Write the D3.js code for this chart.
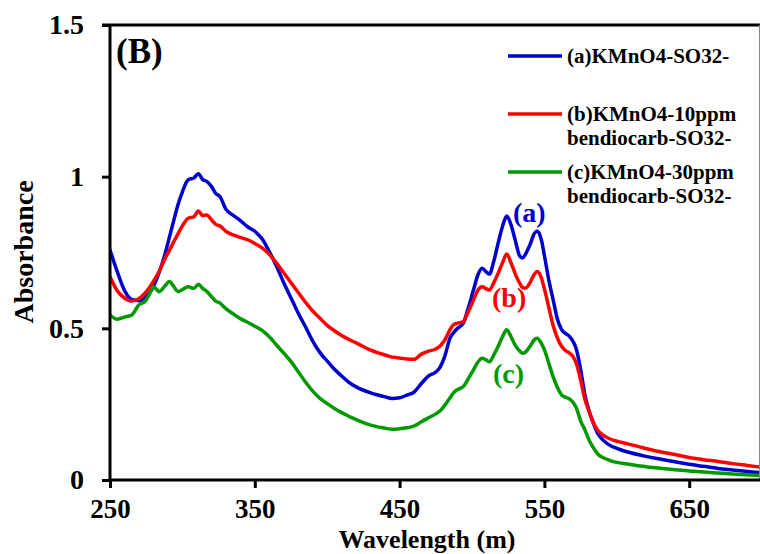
<!DOCTYPE html>
<html><head><meta charset="utf-8">
<script src="https://cdn.jsdelivr.net/npm/d3@7"></script>
<style>
html,body{margin:0;padding:0;background:#fff;}
svg{display:block;font-family:"Liberation Serif","Times New Roman",serif;font-weight:bold;}
</style></head>
<body><svg id="chart" width="760" height="554"></svg>
<script>
const wavelength = [250,255,260,265,270,274,277,280,284,288,291,294,297,300,304,308,311,314,317,320,323,326,330,335,340,345,350,355,360,365,370,375,380,385,390,395,400,405,410,415,420,430,440,445,450,455,460,465,470,475,478,481,485,487,490,494,497,501,504,507,510,512,515,518,521,524,527,530,533,535,537,540,543,545,548,550,553,556,559,562,565,567,570,572,575,578,581,584,587,590,595,600,607,620,630,640,650,660,670,680,690,700];

const seriesA = [0.758,0.687,0.625,0.595,0.592,0.600,0.615,0.638,0.685,0.745,0.800,0.855,0.908,0.950,0.990,0.996,1.010,0.990,0.984,0.968,0.945,0.934,0.893,0.873,0.855,0.835,0.820,0.795,0.753,0.705,0.650,0.600,0.550,0.505,0.458,0.420,0.392,0.365,0.343,0.322,0.307,0.287,0.274,0.269,0.271,0.280,0.290,0.318,0.343,0.356,0.372,0.405,0.470,0.484,0.500,0.517,0.560,0.626,0.675,0.698,0.685,0.679,0.720,0.780,0.835,0.870,0.840,0.788,0.738,0.732,0.745,0.775,0.812,0.821,0.790,0.740,0.660,0.595,0.530,0.495,0.482,0.475,0.455,0.432,0.365,0.280,0.225,0.185,0.152,0.134,0.115,0.104,0.093,0.078,0.069,0.060,0.052,0.045,0.038,0.033,0.028,0.024];

const seriesB = [0.670,0.624,0.600,0.590,0.598,0.615,0.633,0.655,0.688,0.730,0.757,0.785,0.812,0.838,0.863,0.868,0.887,0.872,0.874,0.858,0.843,0.837,0.820,0.808,0.800,0.792,0.780,0.765,0.744,0.715,0.683,0.650,0.618,0.586,0.557,0.533,0.510,0.492,0.476,0.463,0.452,0.428,0.412,0.405,0.402,0.399,0.398,0.415,0.425,0.432,0.442,0.460,0.497,0.511,0.517,0.522,0.550,0.593,0.625,0.637,0.630,0.626,0.650,0.681,0.715,0.745,0.715,0.678,0.648,0.634,0.633,0.650,0.678,0.687,0.665,0.630,0.570,0.510,0.468,0.440,0.425,0.420,0.405,0.385,0.330,0.265,0.225,0.187,0.163,0.150,0.136,0.128,0.120,0.104,0.093,0.084,0.074,0.067,0.061,0.054,0.048,0.042];

const seriesC = [0.544,0.530,0.537,0.544,0.578,0.588,0.610,0.637,0.621,0.640,0.654,0.638,0.621,0.628,0.637,0.632,0.645,0.632,0.621,0.605,0.590,0.583,0.565,0.548,0.532,0.520,0.507,0.493,0.472,0.445,0.418,0.390,0.357,0.323,0.293,0.269,0.252,0.236,0.222,0.210,0.199,0.181,0.171,0.167,0.169,0.172,0.178,0.192,0.205,0.218,0.228,0.245,0.272,0.286,0.298,0.308,0.330,0.363,0.388,0.401,0.395,0.390,0.412,0.440,0.472,0.495,0.472,0.443,0.425,0.418,0.422,0.440,0.462,0.467,0.450,0.430,0.385,0.341,0.305,0.280,0.272,0.268,0.255,0.238,0.195,0.165,0.130,0.105,0.085,0.075,0.065,0.058,0.053,0.044,0.039,0.034,0.030,0.026,0.023,0.020,0.017,0.014];

const seriesNames = ["(a)KMnO4-SO32-", "(b)KMnO4-10ppm|bendiocarb-SO32-", "(c)KMnO4-30ppm|bendiocarb-SO32-"];
const seriesTags = ["(a)", "(b)", "(c)"];
const seriesColors = ["#0000cc", "#ff0000", "#009900"];
const xTicks = [250, 350, 450, 550, 650];
const yTicks = [0, 0.5, 1, 1.5];
const yTickLabels = ["0", "0.5", "1", "1.5"];

const svg = d3.select("#chart");
const x = d3.scaleLinear().domain([250, 700]).range([110, 761.6]);
const y = d3.scaleLinear().domain([0, 1.5]).range([480, 25]);

svg.append("clipPath").attr("id","clip").append("rect")
  .attr("x",110).attr("y",0).attr("width",649).attr("height",480);

svg.append("line").attr("x1",102).attr("x2",760).attr("y1",y(1.5)).attr("y2",y(1.5))
  .attr("stroke","#000").attr("stroke-width",3);
svg.append("line").attr("x1",759.5).attr("x2",759.5).attr("y1",y(1.5)).attr("y2",y(0))
  .attr("stroke","#888").attr("stroke-width",1);

const allSeries = [seriesA, seriesB, seriesC];
const line = d3.line().x((d,i)=>x(wavelength[i])).y(d=>y(d)).curve(d3.curveMonotoneX);
const g = svg.append("g").attr("clip-path","url(#clip)");
allSeries.forEach((s, k) => {
  g.append("path").datum(s).attr("d", line).attr("fill","none")
    .attr("stroke", seriesColors[k]).attr("stroke-width",3.5)
    .attr("stroke-linejoin","round").attr("stroke-linecap","round");
});

const xAxis = d3.axisBottom(x).tickValues(xTicks).tickSize(8).tickSizeOuter(0).tickPadding(11);
const yAxis = d3.axisLeft(y).tickValues(yTicks).tickSize(8).tickSizeOuter(0).tickPadding(18)
  .tickFormat((d,i)=>yTickLabels[i]);

const gx = svg.append("g").attr("transform","translate(0,480)").call(xAxis);
gx.select(".domain").attr("d","M110,0H760").attr("stroke","#000").attr("stroke-width",3);
gx.selectAll(".tick line").attr("stroke","#000").attr("stroke-width",3);
gx.selectAll(".tick text").attr("font-family","Liberation Serif").attr("font-weight","bold")
  .attr("font-size",27).attr("fill","#000").attr("dy","0.71em");

const gy = svg.append("g").attr("transform","translate(110,0)").call(yAxis);
gy.select(".domain").attr("d","M0,25V481.5").attr("stroke","#000").attr("stroke-width",3);
gy.selectAll(".tick line").attr("stroke","#000").attr("stroke-width",3);
gy.selectAll(".tick text").attr("font-family","Liberation Serif").attr("font-weight","bold")
  .attr("font-size",28).attr("fill","#000");

svg.append("text").attr("x",427).attr("y",548).attr("text-anchor","middle")
  .attr("font-size",26).text("Wavelength (m)");
svg.append("text").attr("transform","translate(33,252) rotate(-90)").attr("text-anchor","middle")
  .attr("font-size",28).text("Absorbance");

svg.append("text").attr("x",116).attr("y",63).attr("font-size",35).text("(B)");

const legY = [56, 114, 172];
seriesNames.forEach((n, k) => {
  svg.append("line").attr("x1",508).attr("x2",562).attr("y1",legY[k]).attr("y2",legY[k])
    .attr("stroke",seriesColors[k]).attr("stroke-width",3.5);
  n.split("|").forEach((t, j) => {
    svg.append("text").attr("x",567).attr("y",legY[k]+7+j*24).attr("font-size",21).text(t);
  });
});

const tagPos = [[513,222],[492,307],[493,383]];
seriesTags.forEach((t,k)=>{
  svg.append("text").attr("x",tagPos[k][0]).attr("y",tagPos[k][1]).attr("font-size",28)
    .attr("fill",seriesColors[k]).text(t);
});
</script></body></html>
